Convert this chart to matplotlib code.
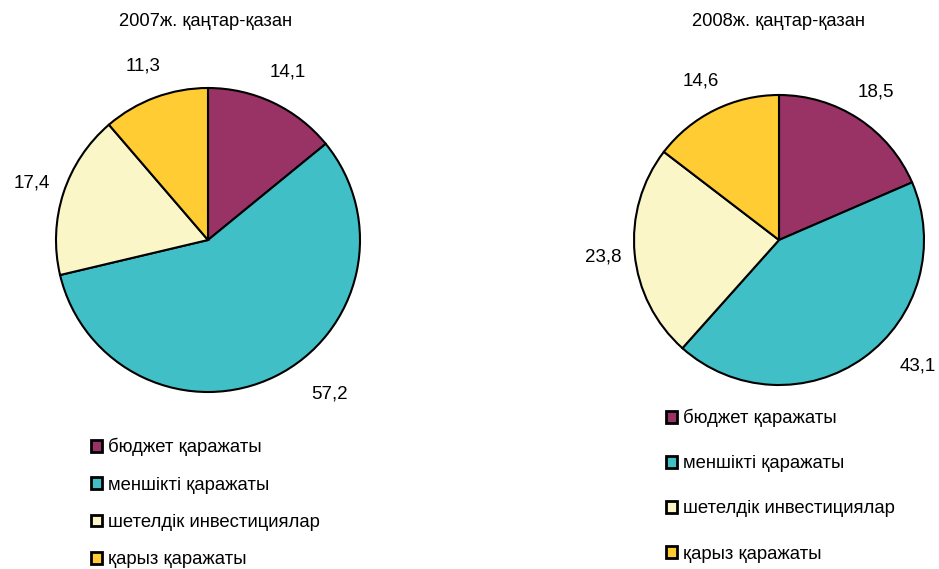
import numpy as np
import matplotlib.pyplot as plt
from matplotlib.patches import Patch

plt.rcParams['font.family'] = ['Liberation Sans', 'DejaVu Sans']

# Инвестиция көздері
categories = ['бюджет қаражаты', 'меншікті қаражаты',
              'шетелдік инвестициялар', 'қарыз қаражаты']
values_2007 = [14.1, 57.2, 17.4, 11.3]
values_2008 = [18.5, 43.1, 23.8, 14.6]
titles = ['2007ж. қаңтар-қазан', '2008ж. қаңтар-қазан']
colors = ['#993366', '#40C0C6', '#FAF6C8', '#FFCC33']

W, H = 939, 569
fig = plt.figure(figsize=(W / 100, H / 100), dpi=100)


def px_axes(cx, cy, r):
    # оське центр мен радиус пиксельмен беріледі
    return fig.add_axes([(cx - r) / W, (H - cy - r) / H, 2 * r / W, 2 * r / H])


def draw_pie(ax, values):
    wedges, texts = ax.pie(values, colors=colors, startangle=90, counterclock=False,
                           labels=[f'{v:.1f}'.replace('.', ',') for v in values],
                           labeldistance=1.22,
                           wedgeprops=dict(edgecolor='black', linewidth=1.5))
    for t in texts:
        t.set_ha('center')
        t.set_va('center')
        t.set_fontsize(13.5)
    # үлкен сегменттің жазуы сәл бұрылып, алысырақ тұрады
    big = values.index(max(values))
    w = wedges[big]
    ang = np.deg2rad((w.theta1 + w.theta2) / 2 + 12)
    texts[big].set_position((1.29 * np.cos(ang), 1.29 * np.sin(ang)))
    ax.set_xlim(-1, 1)
    ax.set_ylim(-1, 1)
    ax.set_aspect('equal')
    ax.axis('off')


ax1 = px_axes(208, 240, 152)
draw_pie(ax1, values_2007)
ax2 = px_axes(779, 240, 145)
draw_pie(ax2, values_2008)

fig.text(206 / W, 1 - 21 / H, titles[0], ha='center', va='center', fontsize=13.2)
fig.text(778 / W, 1 - 21 / H, titles[1], ha='center', va='center', fontsize=13.2)

handles = [Patch(facecolor=c, edgecolor='black', linewidth=2) for c in colors]
common = dict(loc='upper left', frameon=False, fontsize=13.3, borderpad=0,
              borderaxespad=0, handlelength=0.6, handleheight=0.6,
              handletextpad=0.3)
fig.legend(handles, categories, bbox_to_anchor=(91 / W, 1 - 438 / H),
           labelspacing=1.1, **common)
fig.legend(handles, categories, bbox_to_anchor=(666 / W, 1 - 409 / H),
           labelspacing=1.52, **common)

fig.savefig('out.png', dpi=100, facecolor='white')
